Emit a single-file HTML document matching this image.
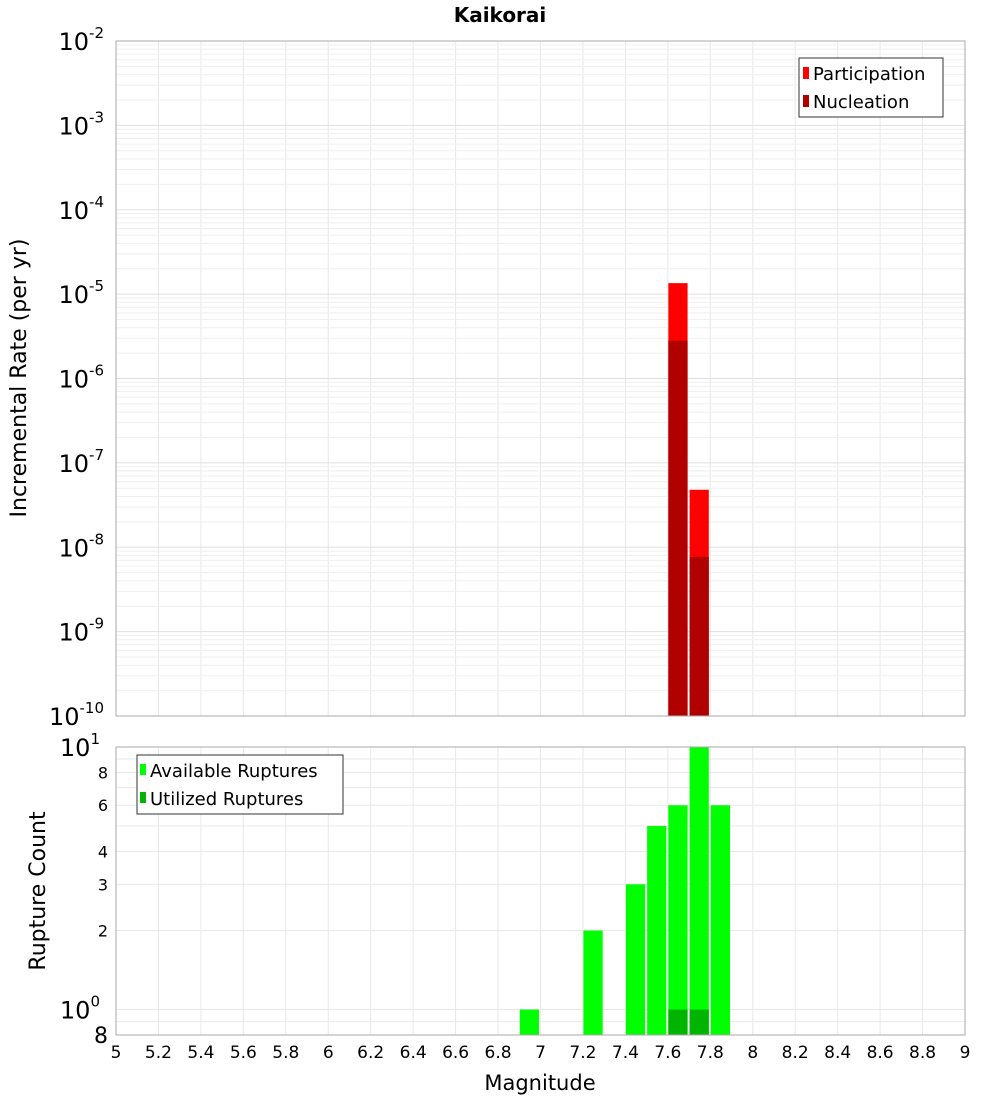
<!DOCTYPE html>
<html><head><meta charset="utf-8"><style>
body{margin:0;background:#fff;}
svg{display:block;font-family:"DejaVu Sans","Liberation Sans",sans-serif;}
</style></head><body>
<svg id="chart" width="1000" height="1100">
<text x="500" y="22" text-anchor="middle" font-size="20" font-weight="bold">Kaikorai</text>
<g id="grid"></g>
<g id="bars"></g>
<g id="axes"></g>
</svg>
<script>
const magBins=[6.95,7.25,7.45,7.55,7.65,7.75,7.85];
const partRates=[0,0,0,0,1.35e-5,4.8e-8,0];
const nuclRates=[0,0,0,0,2.8e-6,7.7e-9,0];
const availCounts=[1,2,3,5,6,10,6];
const usedCounts=[0,0,0,0,1,1,0];
const xTicks=[5,5.2,5.4,5.6,5.8,6,6.2,6.4,6.6,6.8,7,7.2,7.4,7.6,7.8,8,8.2,8.4,8.6,8.8,9];
const topExps=[-2,-3,-4,-5,-6,-7,-8,-9,-10];
const botTicks=[8,6,4,3,2];

const NS="http://www.w3.org/2000/svg";
const L=116,R=965,T1=41,B1=716,T2=747,B2=1035;
const x=v=>L+(v-5)/4*(R-L);
const y1=v=>T1+(-2-Math.log10(v))/8*(B1-T1);
const y2=v=>T2+(1-Math.log10(v))/Math.log10(10/0.8)*(B2-T2);
function mk(tag,attrs,parent,txt){const e=document.createElementNS(NS,tag);for(const k in attrs)e.setAttribute(k,attrs[k]);if(txt!==undefined)e.textContent=txt;parent.appendChild(e);return e;}
const grid=document.getElementById('grid'),bars=document.getElementById('bars'),axes=document.getElementById('axes');

// grid
for(const t of xTicks){
  mk('line',{x1:x(t),x2:x(t),y1:T1,y2:B1,stroke:'#e8e8e8'},grid);
  mk('line',{x1:x(t),x2:x(t),y1:T2,y2:B2,stroke:'#e8e8e8'},grid);
}
for(let e=-10;e<-2;e++)for(let m=1;m<10;m++){
  const v=m*Math.pow(10,e);
  mk('line',{x1:L,x2:R,y1:y1(v),y2:y1(v),stroke:m===1?'#e0e0e0':'#efefef'},grid);
}
for(const v of [0.8,0.9,1,2,3,4,5,6,7,8,9]) mk('line',{x1:L,x2:R,y1:y2(v),y2:y2(v),stroke:'#e8e8e8'},grid);

// bars
const bw=0.1*(R-L)/4-2;
magBins.forEach((m,i)=>{
  const x0=x(m-0.05)+0.5;
  if(partRates[i]>0){const b=mk('rect',{x:x0,y:y1(partRates[i]),width:bw,height:B1-y1(partRates[i]),fill:'#ff0000'},bars);
  
  }
  if(nuclRates[i]>0){const b=mk('rect',{x:x0,y:y1(nuclRates[i]),width:bw,height:B1-y1(nuclRates[i]),fill:'#b00000'},bars);
  
  }
  if(availCounts[i]>0){const b=mk('rect',{x:x0,y:y2(availCounts[i]),width:bw,height:B2-y2(availCounts[i]),fill:'#00ff00'},bars);
  
  }
  if(usedCounts[i]>0){const b=mk('rect',{x:x0,y:y2(usedCounts[i]),width:bw,height:B2-y2(usedCounts[i]),fill:'#00b400'},bars);
  
  }
});

// frames
mk('rect',{x:L,y:T1,width:R-L,height:B1-T1,fill:'none',stroke:'#aaa'},axes);
mk('rect',{x:L,y:T2,width:R-L,height:B2-T2,fill:'none',stroke:'#aaa'},axes);

// x ticks
for(const t of xTicks){const tx=mk('text',{x:x(t),y:1058,'text-anchor':'middle','font-size':'17'},axes,String(t));

}
const xt=mk('text',{x:540,y:1090,'text-anchor':'middle','font-size':'21'},axes,'Magnitude');



// top y ticks
for(const e of topExps){const yy=y1(Math.pow(10,e));
  const g=mk('text',{x:104,y:yy+9,'text-anchor':'end','font-size':'24'},axes);
  
  
  mk('tspan',{},g,'10');mk('tspan',{dy:'-12','font-size':'15'},g,String(e));
}
const yt1=mk('text',{x:0,y:0,'text-anchor':'middle','font-size':'22',transform:'translate(26,378) rotate(-90)'},axes,'Incremental Rate (per yr)');



// bottom y ticks
for(const e of [1,0]){const yy=y2(Math.pow(10,e));
  const g=mk('text',{x:100,y:yy+9,'text-anchor':'end','font-size':'24'},axes);
  
  
  mk('tspan',{},g,'10');mk('tspan',{dy:'-12','font-size':'15'},g,String(e));
}
for(const v of botTicks){const tx=mk('text',{x:108,y:y2(v)+6,'text-anchor':'end','font-size':'16'},axes,String(v));

}
const b8=mk('text',{x:108,y:1043,'text-anchor':'end','font-size':'22'},axes,'8');


const yt2=mk('text',{x:0,y:0,'text-anchor':'middle','font-size':'22',transform:'translate(45,891) rotate(-90)'},axes,'Rupture Count');



// legends
const lg1=mk('g',{},axes);


mk('rect',{x:799,y:58,width:144,height:59,fill:'#fff',stroke:'#333'},lg1);
mk('rect',{x:803,y:67,width:6,height:12,fill:'#ff0000'},lg1);
mk('text',{x:813,y:80,'font-size':'18'},lg1,'Participation');
mk('rect',{x:803,y:95,width:6,height:12,fill:'#b00000'},lg1);
mk('text',{x:813,y:108,'font-size':'18'},lg1,'Nucleation');
const lg2=mk('g',{},axes);


mk('rect',{x:137,y:755,width:206,height:59,fill:'#fff',stroke:'#333'},lg2);
mk('rect',{x:140,y:764,width:6,height:11,fill:'#00ff00'},lg2);
mk('text',{x:150,y:777,'font-size':'18'},lg2,'Available Ruptures');
mk('rect',{x:140,y:792,width:6,height:11,fill:'#00b400'},lg2);
mk('text',{x:150,y:805,'font-size':'18'},lg2,'Utilized Ruptures');
</script>
</body></html>
